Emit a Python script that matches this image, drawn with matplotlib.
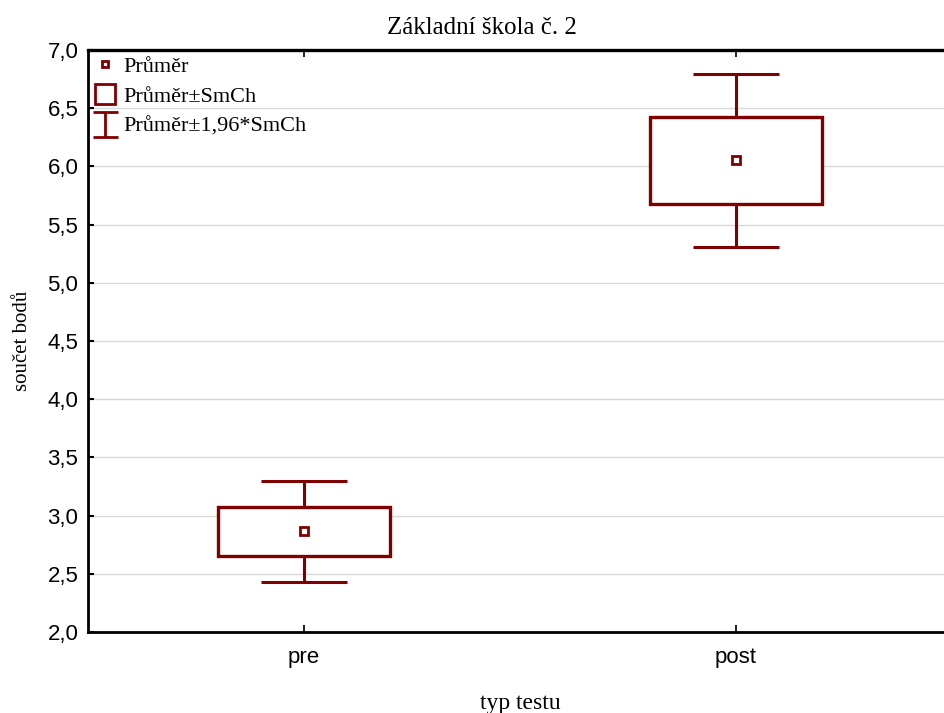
import matplotlib.pyplot as plt
from matplotlib.lines import Line2D
from matplotlib.path import Path
import numpy as np

# data
groups = ['pre', 'post']
means = [2.868, 6.055]
se_low = [2.655, 5.677]
se_high = [3.075, 6.424]
ci_low = [2.43, 5.305]
ci_high = [3.297, 6.795]

red = '#800000'
serif = 'Liberation Serif'
sans = 'Liberation Sans'

fig = plt.figure(figsize=(9.44, 7.13), dpi=100)
# right edge of the plot runs past the picture, as in the original
ax = fig.add_axes([88 / 944, 1 - 632 / 713, 864 / 944, 582 / 713])

x = np.arange(len(groups))
low = np.array(se_low)
high = np.array(se_high)

# whiskers (mean +- 1.96*SE)
ax.vlines(x, high, ci_high, color=red, lw=2.2, zorder=3)
ax.vlines(x, ci_low, low, color=red, lw=2.2, zorder=3)
ax.hlines(ci_high, x - 0.1, x + 0.1, color=red, lw=2.2, zorder=3)
ax.hlines(ci_low, x - 0.1, x + 0.1, color=red, lw=2.2, zorder=3)

# boxes (mean +- SE)
ax.bar(x, high - low, bottom=low, width=0.4, facecolor='white',
       edgecolor=red, lw=2.4, zorder=3)

# means
ax.plot(x, means, 's', ms=6, mfc='white', mec=red, mew=2, zorder=4)

ax.set_xlim(-0.5, 1.5)
ax.set_ylim(2.0, 7.0)
yticks = np.arange(2.0, 7.01, 0.5)
ax.set_yticks(yticks)
ax.set_yticklabels([f'{v:.1f}'.replace('.', ',') for v in yticks],
                   fontfamily=sans, fontsize=16)
ax.set_xticks(x)
ax.set_xticklabels(groups, fontfamily=sans, fontsize=16)

ax.grid(axis='y', color='#d9d9d9', lw=1)
ax.set_axisbelow(True)

ax.tick_params(axis='y', direction='in', length=4, width=1.5, pad=7)
ax.tick_params(axis='x', direction='in', length=5, width=1.2, pad=11,
               top=True)

for side in ['left', 'bottom', 'top']:
    ax.spines[side].set_linewidth(2)
ax.spines['top'].set_linewidth(2.4)
ax.spines['right'].set_visible(False)

# title is centred on the whole picture, not on the (cut) plot area
fig.text(482 / 944, 1 - 28 / 713, 'Základní škola č. 2', fontfamily=serif,
         fontsize=18, ha='center', va='center')
ax.set_ylabel('součet bodů', fontfamily=serif, fontsize=15, labelpad=11)
ax.set_xlabel('typ testu', fontfamily=serif, fontsize=17, labelpad=18)

# legend symbols
ibar = Path([(-1, 1), (1, 1), (0, 1), (0, -1), (-1, -1), (1, -1)],
            [Path.MOVETO, Path.LINETO, Path.MOVETO, Path.LINETO,
             Path.MOVETO, Path.LINETO])
handles = [
    Line2D([], [], ls='none', marker='s', ms=5, mfc='white', mec=red, mew=2),
    Line2D([], [], ls='none', marker='s', ms=15, mfc='white', mec=red, mew=2),
    Line2D([], [], ls='none', marker=ibar, ms=18, mec=red, mew=2),
]
labels = ['Průměr', 'Průměr±SmCh', 'Průměr±1,96*SmCh']
leg = ax.legend(handles, labels, loc='upper left', frameon=False,
                prop={'family': serif, 'size': 16}, handlelength=0.9,
                handletextpad=0.4, labelspacing=0.42,
                borderaxespad=0.0, borderpad=0.3)

plt.savefig('out.png', dpi=100)
